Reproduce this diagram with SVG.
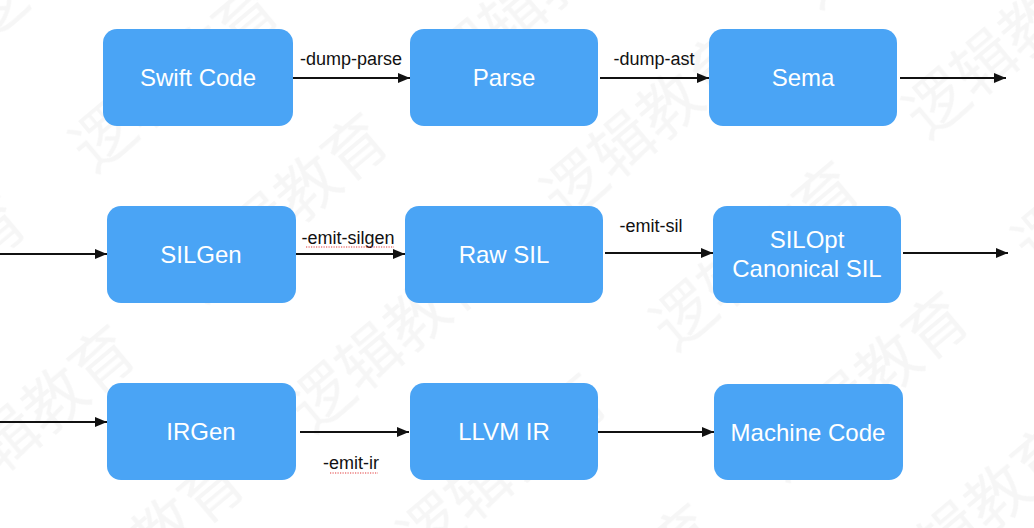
<svg xmlns="http://www.w3.org/2000/svg" width="1034" height="528" viewBox="0 0 1034 528">
  <style>
    .node rect { fill: #4aa4f5; }
    .node text { fill: #ffffff; font-family: "Liberation Sans", Arial, sans-serif; font-size: 24px; text-anchor: middle; }
    .edge line { stroke: #111111; stroke-width: 2; marker-end: url(#arrow); }
    .label { fill: #111111; font-family: "Liberation Sans", Arial, sans-serif; font-size: 18px; text-anchor: middle; }
    .squiggle { stroke: #e23b3b; stroke-width: 1.2; stroke-dasharray: 1.2 1.3; fill: none; }
    .wm { fill: #f6f6f6; font-family: "Noto Sans CJK SC", sans-serif; font-size: 62px; }
  </style>
  <defs>
    <marker id="arrow" viewBox="0 0 12 10" refX="12" refY="5" markerWidth="6" markerHeight="5" orient="auto" markerUnits="strokeWidth">
      <path d="M0,0 L12,5 L0,10 z" fill="#111111"/>
    </marker>
    <pattern id="watermark" width="330" height="170" patternUnits="userSpaceOnUse" patternTransform="rotate(-40) translate(-40 130)">
      <text class="wm" x="0" y="64">逻辑教育</text>
    </pattern>
  </defs>

  <rect width="1034" height="528" fill="#ffffff"/>
  <rect width="1034" height="528" fill="url(#watermark)"/>

  <!-- row 1 -->
  <g id="node-swift-code" class="node">
    <rect x="103" y="29" width="190" height="97" rx="14"/>
    <text x="198" y="86">Swift Code</text>
  </g>
  <g id="node-parse" class="node">
    <rect x="410" y="29" width="188" height="97" rx="14"/>
    <text x="504" y="86">Parse</text>
  </g>
  <g id="node-sema" class="node">
    <rect x="709" y="29" width="188" height="97" rx="14"/>
    <text x="803" y="86">Sema</text>
  </g>

  <!-- row 2 -->
  <g id="node-silgen" class="node">
    <rect x="107" y="206" width="189" height="97" rx="14"/>
    <text x="201" y="263">SILGen</text>
  </g>
  <g id="node-raw-sil" class="node">
    <rect x="405" y="206" width="198" height="97" rx="14"/>
    <text x="504" y="263">Raw SIL</text>
  </g>
  <g id="node-silopt" class="node">
    <rect x="713" y="206" width="188" height="97" rx="14"/>
    <text x="807" y="248">SILOpt</text>
    <text x="807" y="277">Canonical SIL</text>
  </g>

  <!-- row 3 -->
  <g id="node-irgen" class="node">
    <rect x="107" y="383" width="189" height="97" rx="14"/>
    <text x="201" y="440">IRGen</text>
  </g>
  <g id="node-llvm-ir" class="node">
    <rect x="410" y="383" width="188" height="97" rx="14"/>
    <text x="504" y="440">LLVM IR</text>
  </g>
  <g id="node-machine-code" class="node">
    <rect x="714" y="384" width="189" height="96" rx="14"/>
    <text x="808" y="441">Machine Code</text>
  </g>

  <!-- connectors -->
  <g id="connectors" class="edge">
    <line x1="293" y1="78" x2="410" y2="78"/>
    <line x1="600" y1="78" x2="709" y2="78"/>
    <line x1="900" y1="78" x2="1006" y2="78"/>

    <line x1="0" y1="254" x2="107" y2="254"/>
    <line x1="296" y1="254" x2="405" y2="254"/>
    <line x1="605" y1="253" x2="713" y2="253"/>
    <line x1="903" y1="253" x2="1008" y2="253"/>

    <line x1="0" y1="422" x2="107" y2="422"/>
    <line x1="300" y1="432" x2="409" y2="432"/>
    <line x1="598" y1="432" x2="714" y2="432"/>

    <text class="label" x="351" y="65">-dump-parse</text>
    <text class="label" x="654" y="65">-dump-ast</text>
    <text class="label" x="348" y="244">-emit-silgen</text>
    <path class="squiggle" d="M306,247 L394,247"/>
    <text class="label" x="651" y="232">-emit-sil</text>
    <text class="label" x="351" y="469">-emit-ir</text>
    <path class="squiggle" d="M330,473 L378,473"/>
  </g>
</svg>
